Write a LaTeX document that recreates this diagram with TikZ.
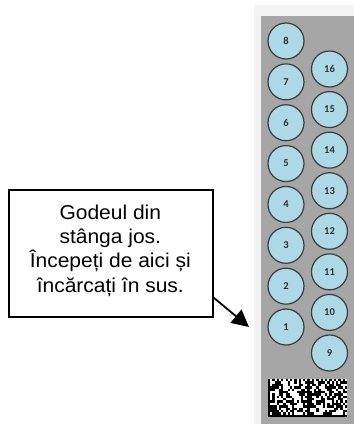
\documentclass[tikz,border=0pt]{standalone}
\usepackage{fontspec}
\usetikzlibrary{arrows.meta}
\newfontfamily\boxfont{Liberation Sans}[FakeStretch=1.05]
\newfontfamily\numfont{Carlito}
\newcommand\calloutfont{\boxfont\fontsize{20}{24.3}\selectfont\setlength{\lineskiplimit}{-100pt}}
\definecolor{panelgray}{HTML}{A6A6A6}
\definecolor{paleback}{HTML}{F3F3F3}
\definecolor{wellfill}{HTML}{ADD8E6}
\definecolor{welledge}{HTML}{3C3C3C}
\definecolor{numcol}{HTML}{2E2E2E}
\tikzset{
  wellc/.style={circle, draw=welledge, fill=wellfill, line width=1.2pt,
    minimum size=36pt, inner sep=0pt, text=numcol,
    font=\numfont\bfseries\fontsize{10.5}{12}\selectfont},
  calloutbox/.style={draw=black, line width=1.4pt, minimum width=204pt,
    minimum height=127pt, inner sep=0pt, anchor=north west},
  callouttext/.style={align=center, inner sep=0pt, anchor=north,
    font=\calloutfont},
  pointer/.style={line width=1.8pt, -{Triangle[length=17pt,width=17pt]}}
}
\begin{document}
\begin{tikzpicture}[x=1pt,y=-1pt]
\useasboundingbox (0,0) rectangle (354,424);
\fill[white] (0,0) rectangle (354,424);
\fill[paleback] (254,5) rectangle (354,424);
\fill[panelgray] (261,16) rectangle (354,424);
% wells, left column 1..8
\foreach \k in {1,...,8} {
  \node[wellc] (w\k) at (286, {41+40.86*(8-\k)}) {\k};
}
% wells, right column 9..16
\foreach \k in {9,...,16} {
  \node[wellc] (w\k) at (329.5, {69+40.57*(16-\k)}) {\k};
}
% data matrix
\fill[white] (268,379) rectangle (347,417);
\pgfmathsetseed{11}
\foreach \c in {0,...,35} {
  \foreach \r in {0,...,15} {
    \pgfmathtruncatemacro\cc{mod(\c,18)}
    \pgfmathtruncatemacro\bk{(\cc==0)||(\r==15)||((\r==0)&&(mod(\cc,2)==0))||((\cc==17)&&(mod(\r,2)==1))||((\cc>0)&&(\cc<17)&&(\r>0)&&(\r<15)&&(rnd<0.5))}
    \ifnum\bk=1
      \fill[black] ({268+\c*2.194},{379+\r*2.375}) rectangle ++(2.3,2.45);
    \fi
  }
}
% callout
\node[calloutbox] (box) at (8.3,189.3) {};
\node[callouttext] (label) at (110.3,204.5) {Godeul din\\stânga jos.\\Începeți de aici și\\încărcați în sus.};
\coordinate (tip) at (249,327);
\draw[pointer] ([yshift=20pt]box.south east) -- (tip);
\end{tikzpicture}
\end{document}
